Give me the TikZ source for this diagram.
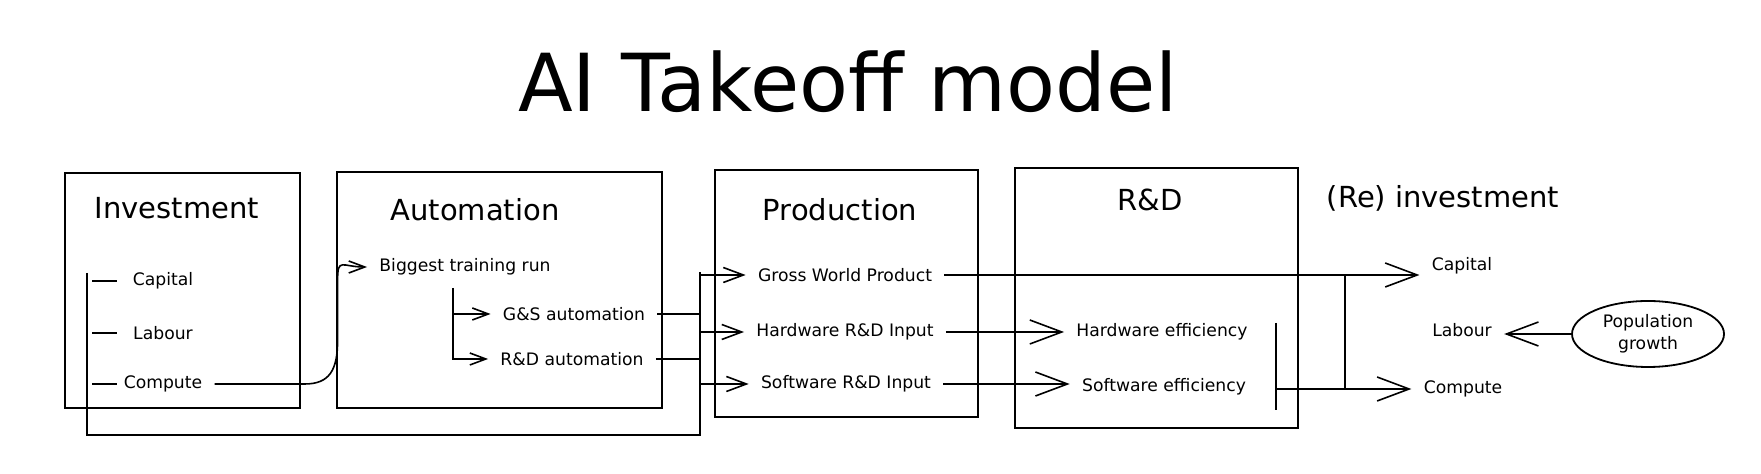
\documentclass[tikz,border=0pt]{standalone}
\usepackage{fontspec}
\setmainfont{DejaVu Sans}
\usetikzlibrary{arrows.meta, shapes.geometric}
\tikzstyle{box}=[draw, line width=0.9pt]
\tikzstyle{heading}=[font=\fontsize{14.5}{17}\selectfont]
\tikzstyle{item}=[font=\fontsize{8.6}{11}\selectfont, inner sep=6pt]
\tikzstyle{wire}=[line width=0.8pt]
\tikzstyle{arr}=[wire, -{Straight Barb[length=8pt, width=6pt]}]
\tikzstyle{medarr}=[wire, -{Straight Barb[length=10pt, width=7.5pt]}]
\tikzstyle{bigarr}=[wire, -{Straight Barb[length=16pt, width=12pt]}]
\tikzstyle{pop}=[ellipse, draw, line width=0.9pt, minimum width=76pt, minimum height=33pt, inner sep=0pt, align=center, font=\fontsize{8.6}{11}\selectfont]

\begin{document}
\begin{tikzpicture}[x=0.5pt, y=-0.5pt]
    \useasboundingbox (0,0) rectangle (1761,474);
    \node [font=\fontsize{40}{48}\selectfont] (title) at (848,82) {AI Takeoff model};
    % boxes
    \draw [box] (65,173) rectangle (300,408);
    \draw [box] (337,172) rectangle (662,408);
    \draw [box] (715,170) rectangle (978,417);
    \draw [box] (1015,168) rectangle (1298,428);
    \node [heading] (hinv) at (177,208) {Investment};
    \node [heading] (hauto) at (475,210) {Automation};
    \node [heading] (hprod) at (840,210) {Production};
    \node [heading] (hrnd) at (1150,200) {R\&D};
    \node [heading] (hreinv) at (1443,198) {(Re) investment};
    % investment
    \node [item] (capL) at (163,281) {Capital};
    \node [item] (labL) at (163,333) {Labour};
    \node [item] (cmpL) at (163,384) {Compute};
    \foreach \n in {capL, labL, cmpL}
        \draw [wire] (92,0 |- \n) -- (117,0 |- \n);
    % automation
    \node [item] (big) at (465,267) {Biggest training run};
    \node [item] (gs) at (574,314) {G\&S automation};
    \node [item] (rda) at (572,359) {R\&D automation};
    \coordinate (split) at (453,288);
    \draw [arr] (cmpL.east) -- ++(90,0) .. controls +(25,0) and +(0,30) .. ++(33,-44)
        -- ++(0,-60) .. controls +(0,-23) and +(-25,0) .. (big.west);
    \draw [arr] (split |- gs) -- (gs);
    \draw [arr] (split) |- (rda);
    % production
    \node [item] (gwp) at (845,275) {Gross World Product};
    \node [item] (hwin) at (845,332) {Hardware R\&D Input};
    \node [item] (swin) at (846,384) {Software R\&D Input};
    \coordinate (loop) at (87,273);
    \coordinate (busB) at (700,435);
    \coordinate (busT) at (700,272);
    \draw [wire] (loop) |- (busB) -- (busT);
    \draw [wire] (gs) -- (gs -| busT);
    \draw [wire] (rda) -- (rda -| busT);
    \foreach \n in {gwp, hwin, swin}
        \draw [medarr] (busT |- \n) -- (\n);
    % r&d
    \node [item] (hweff) at (1162,332) {Hardware efficiency};
    \node [item] (sweff) at (1164,387) {Software efficiency};
    \draw [bigarr] (hwin) -- (hweff);
    \draw [bigarr] (swin.east) -- (swin.east -| sweff.west);
    \coordinate (barT) at (1276,323);
    \coordinate (barB) at (1276,410);
    \draw [wire] (barT) -- (barB);
    % (re) investment
    \node [item] (capR) at (1462,266) {Capital};
    \node [item] (labR) at (1462,330) {Labour};
    \node [item] (cmpR) at (1463,389) {Compute};
    \node [pop] (pop) at (1648,334) {Population\\growth};
    \draw [bigarr] (gwp) -- (gwp -| capR.west);
    \draw [bigarr] (barT |- cmpR) -- (cmpR);
    \coordinate (join) at (1345,330);
    \draw [wire] (join |- gwp) -- (join |- cmpR);
    \draw [bigarr] (pop.west) -- (pop.west -| labR.east);
\end{tikzpicture}
\end{document}
